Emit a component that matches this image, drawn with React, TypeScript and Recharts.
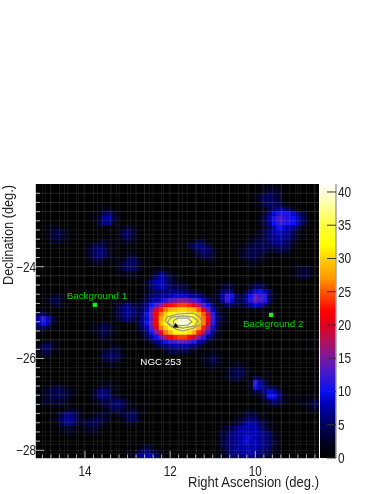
import React from "react"
import {
  Bar,
  BarChart,
  Scatter,
  ScatterChart,
  Symbols,
  XAxis,
  YAxis,
} from "recharts"

const FONT = "'Liberation Sans', Arial, sans-serif"

const RA_MIN = 8.505
const RA_MAX = 15.15
const DEC_MIN = -28.168
const DEC_MAX = -22.198
const NUM_BINS = 60

// one character per bin: index in LEVELS is the counts value
const LEVELS = "0123456789abcdefghijklmnopqrstuvwxyzABCDEF"

// rows go from the top of the map down, columns from high RA to low RA
const heatRows = [
  "0000000000 0000000000 0000000000 0000000000 0000000112 1100000000",
  "0000000000 0000000000 0000000000 0000000000 0000000123 3210000000",
  "0000000000 0000000000 0000000000 0000000000 0000001345 4310000000",
  "0000000000 0000000000 0000000000 0000000000 0000001355 4310000000",
  "0000000000 0000000000 0000000000 0000000000 0000001245 5421000000",
  "0000000000 0001221000 0000000000 0000000000 0000000124 6775310000",
  "0000000000 0012553100 0000000000 0000000000 0000000136 9bbb964100",
  "0000000000 0023784200 0000000000 0000000000 0000000248 bdcba85200",
  "0000000000 0013663100 0000000000 0000000000 0000000247 accba85200",
  "0012210000 0001000123 2100000000 0000000000 0000000135 8a98742000",
  "0023432000 0000000245 3100000000 0000000000 0000001246 8987531000",
  "0023432000 0000000245 3100000000 0000010000 0000012346 7876421000",
  "0012321000 0012321123 2100000000 0012431000 0000123445 6765310000",
  "0000000000 1244311111 1000000000 0145654100 0001234444 5554210000",
  "0000000000 1356521000 0000000000 0013565310 0012344443 3443100000",
  "0000000000 1356521112 3100000000 0001354310 0012344321 1221000000",
  "0000000000 1244211124 5310000000 0000123100 0001233210 0000000000",
  "0000000000 0122111245 5420000000 0000000000 0000122100 0000110000",
  "0000000000 0000011245 5310011100 0000000000 0000011000 0000123310",
  "0000000000 0000000112 2100136421 0000000000 0000000000 0000123320",
  "0000000000 0000000012 2101368642 1000000000 0000000000 0000123310",
  "0000000000 0000000000 0013688742 2100000001 1100012210 0000000000",
  "0000000000 0000000000 0012578754 4320000012 4310135531 0000000000",
  "0000000000 0000000000 0012456666 6543210125 6521379a85 1000000000",
  "0012321000 0000000000 0013567789 9987642137 ca536aecb5 2000000000",
  "0124421000 0000000122 1135789bde ffedb85327 c9547bedb5 2000000000",
  "0012321000 0000001356 4347adgkmn oonlhda522 5433479852 0000000000",
  "1100000000 0000002467 6458djnqst uutspke841 1001122210 0000000000",
  "4531000000 0000002467 646afmquwy ABzxtpjb52 1000000000 0000000000",
  "8c94100000 0000001356 4369elsvxA DECyuqlc63 1000000000 0000000000",
  "7a83100000 0012321012 236afmtwzC EEDyuqkb52 1000000000 0000000000",
  "4531000000 0123432100 0258dkquxz BBzvsng941 0000000000 0000000000",
  "1200000000 0123432100 0136aflqtw xxvsnic631 0000000000 0000000000",
  "0000000000 0012321000 00247aeiln oomjfb7410 0000000000 0000000000",
  "0122100000 0001210000 0002468acd eedb863100 0000000000 0000000000",
  "2453100000 0000012210 0000135678 8876421000 0000000000 0000000000",
  "2452100000 0001344310 0000001344 4432101210 0000000000 0000000000",
  "1231000000 0002455420 0000000011 1100012321 0000000000 0000000000",
  "0000000000 0001344310 0000000000 0000123431 0000000000 0000000000",
  "0000000000 0000122100 0000000000 0000012321 0122100000 0000000000",
  "0000000000 0000000000 0000000000 0000001210 2344210000 0000000000",
  "0000000000 0000000000 0000000000 0000000000 2344310011 0000000000",
  "0000000000 0000000000 0000000000 0000000001 2343115321 0000000000",
  "0011100000 0001221000 0000000000 0000000000 011003c841 0000000000",
  "0123432100 0012332100 0000000000 0000000000 000002a864 4210000000",
  "1234443210 0136642100 0000000000 0000000000 0000024469 8410000000",
  "1234443210 0136653210 0000000000 0000000000 000000125a a621111100",
  "1233332100 0023445542 1000000000 0000000000 0000000124 6421112234",
  "0122221000 0012345542 1000000000 0000000000 0000000012 3210001234",
  "0000012321 0001234432 3210000000 0000000000 0000121000 0000000122",
  "0000246642 0123321234 5310000000 0000000000 0012343210 0000000000",
  "0001357753 2344321124 5310000000 0000000000 0123565321 0000000000",
  "0000246642 3443210012 2100000000 0000000001 1235787532 1000000000",
  "0000123321 2332100000 0000000000 0000000012 3468888642 1000000000",
  "0000012210 1221000000 0000000000 0000000013 4678888765 2100000000",
  "0000000000 0000000000 0000000000 0000000013 5678998765 3100000000",
  "0000000000 0000000000 0000000000 0000000013 5678988765 3100000000",
  "0000000000 0000000000 0123210000 0000000013 5678888765 3100000000",
  "0000000000 0000000001 1356531000 0000000012 4677887654 2100000000",
  "0000000000 0000000001 2578752000 0000000012 4566776543 2100000000",
]

const raTicks = [
  8.6, 8.8, 9, 9.2, 9.4, 9.6, 9.8, 10, 10.2, 10.4, 10.6, 10.8, 11, 11.2, 11.4,
  11.6, 11.8, 12, 12.2, 12.4, 12.6, 12.8, 13, 13.2, 13.4, 13.6, 13.8, 14, 14.2,
  14.4, 14.6, 14.8, 15,
]
const raMajor = [10, 12, 14]

const decTicks = [
  -28, -27.8, -27.6, -27.4, -27.2, -27, -26.8, -26.6, -26.4, -26.2, -26, -25.8,
  -25.6, -25.4, -25.2, -25, -24.8, -24.6, -24.4, -24.2, -24, -23.8, -23.6,
  -23.4, -23.2, -23, -22.8, -22.6, -22.4,
]
const decMajor = [-24, -26, -28]

const colorTicks = [0, 5, 10, 15, 20, 25, 30, 35, 40]
const COLOR_MAX = 41.2

const paletteLevels = [0, 2, 5, 8, 10, 13, 15, 18, 20, 22, 25, 27, 30, 32, 35, 38, 41.2]
const paletteColors = [
  "#000000",
  "#00001a",
  "#000060",
  "#0000b0",
  "#0a10f0",
  "#4a18c8",
  "#7a18a0",
  "#b81050",
  "#e00020",
  "#ff0000",
  "#ff5500",
  "#ff9900",
  "#ffd000",
  "#ffff00",
  "#ffff40",
  "#ffffa0",
  "#ffffff",
]

// contours around the source, [ra, dec]
const contourOuter = [
  [12.12, -25.18], [12.08, -25.1], [11.82, -25.03], [11.46, -25.01], [11.3, -25.1],
  [11.25, -25.23], [11.46, -25.34], [11.7, -25.4], [11.86, -25.36], [12.0, -25.29],
  [12.12, -25.18],
]
const contourMiddle = [
  [12.05, -25.18], [11.96, -25.1], [11.7, -25.07], [11.46, -25.1], [11.35, -25.18],
  [11.42, -25.29], [11.7, -25.34], [11.89, -25.31], [12.05, -25.23], [12.05, -25.18],
]
const contourInner = [
  [11.93, -25.18], [11.82, -25.12], [11.58, -25.12], [11.49, -25.2], [11.58, -25.27],
  [11.77, -25.29], [11.91, -25.25], [11.93, -25.18],
]
const contours = [contourOuter, contourMiddle, contourInner]

const bgRa = [13.77, 9.63]
const bgDec = [-24.83, -25.05]
const sourceRa = [11.87]
const sourceDec = [-25.29]

const labelNames = ["Background 1", "Background 2", "NGC 253"]
const labelRa = [13.72, 9.58, 12.22]
const labelDec = [-24.7, -25.31, -26.14]
const labelColors = ["#00d000", "#00d000", "#ffffff"]

function hexToRgb(hex: string) {
  return [1, 3, 5].map((i) => parseInt(hex.slice(i, i + 2), 16))
}

function colorFor(v: number) {
  for (let i = 1; i < paletteLevels.length; i++) {
    if (v <= paletteLevels[i]) {
      const t = (v - paletteLevels[i - 1]) / (paletteLevels[i] - paletteLevels[i - 1])
      const a = hexToRgb(paletteColors[i - 1])
      const b = hexToRgb(paletteColors[i])
      return `rgb(${a.map((c, k) => Math.round(c + (b[k] - c) * t)).join(",")})`
    }
  }
  return "#ffffff"
}

const raBin = (RA_MAX - RA_MIN) / NUM_BINS
const decBin = (DEC_MAX - DEC_MIN) / NUM_BINS

const heatData = heatRows.flatMap((row, r) =>
  row
    .replace(/ /g, "")
    .split("")
    .map((ch, c) => ({
      x: RA_MAX - (c + 0.5) * raBin,
      y: DEC_MAX - (r + 0.5) * decBin,
      value: LEVELS.indexOf(ch),
    }))
)

const WIDTH = 382
const HEIGHT = 494
const LEFT = 36
const RIGHT = 319
const TOP = 184
const BOTTOM = 458
const cellW = (RIGHT - LEFT) / NUM_BINS
const cellH = (BOTTOM - TOP) / NUM_BINS

function HeatCell(props: any) {
  const { cx, cy, payload } = props
  return (
    <rect
      x={cx - cellW / 2}
      y={cy - cellH / 2}
      width={cellW + 0.4}
      height={cellH + 0.4}
      fill={colorFor(payload.value)}
    />
  )
}

function NoPoint() {
  return <g />
}

function RaTick({ x, y, payload }: any) {
  const major = raMajor.includes(payload.value)
  return (
    <g>
      <line x1={x} x2={x} y1={y} y2={y - (major ? 7 : 3.5)} stroke="#b0b0b0" strokeWidth={1} />
      {major && (
        <text
          x={x}
          y={y + 18}
          textAnchor="middle"
          fontSize={14}
          fontFamily={FONT}
          fill="#222"
          textLength={13}
          lengthAdjust="spacingAndGlyphs"
        >
          {payload.value}
        </text>
      )}
    </g>
  )
}

function DecTick({ x, y, payload }: any) {
  const major = decMajor.includes(payload.value)
  return (
    <g>
      <line x1={x} x2={x + (major ? 8 : 4)} y1={y} y2={y} stroke="#b0b0b0" strokeWidth={1} />
      {major && (
        <text
          x={x}
          y={y + 5}
          textAnchor="end"
          fontSize={14}
          fontFamily={FONT}
          fill="#222"
          textLength={20}
          lengthAdjust="spacingAndGlyphs"
        >
          {"\u2212" + Math.abs(payload.value)}
        </text>
      )}
    </g>
  )
}

function ColorTick({ x, y, payload }: any) {
  return (
    <g>
      <line x1={x} x2={x - 9} y1={y} y2={y} stroke="#333" strokeWidth={1} />
      <text
        x={x + 2}
        y={y + 5}
        fontSize={14}
        fontFamily={FONT}
        fill="#222"
        textLength={String(payload.value).length * 6.6}
        lengthAdjust="spacingAndGlyphs"
      >
        {payload.value}
      </text>
    </g>
  )
}

function BgMarker({ cx, cy }: any) {
  return <Symbols type="square" cx={cx} cy={cy} size={18} fill="#00ff00" />
}

function SourceMarker({ cx, cy }: any) {
  return <Symbols type="triangle" cx={cx} cy={cy} size={14} fill="#000000" />
}

function MapLabel({ cx, cy, payload }: any) {
  return (
    <text x={cx} y={cy} textAnchor="middle" fontSize={9.8} fontFamily={FONT} fill={payload.color}>
      {payload.name}
    </text>
  )
}

const gridStroke = "rgba(200,200,200,0.11)"

export default function App() {
  return (
    <div
      style={{
        position: "absolute",
        left: 0,
        top: 0,
        width: WIDTH,
        height: HEIGHT,
        filter: "blur(0.5px)",
      }}
    >
      <ScatterChart
        width={WIDTH}
        height={HEIGHT}
        margin={{ left: 0, top: TOP, right: WIDTH - RIGHT, bottom: 0 }}
      >
        <Scatter data={heatData} dataKey="y" shape={HeatCell} isAnimationActive={false} />
        {raTicks.map((ra) => (
          <Scatter
            key={`ra-${ra}`}
            data={[{ x: ra, y: DEC_MIN }, { x: ra, y: DEC_MAX }]}
            dataKey="y"
            line={{ stroke: gridStroke, strokeWidth: 1 }}
            shape={NoPoint}
            isAnimationActive={false}
          />
        ))}
        {decTicks.map((dec) => (
          <Scatter
            key={`dec-${dec}`}
            data={[{ x: RA_MIN, y: dec }, { x: RA_MAX, y: dec }]}
            dataKey="y"
            line={{ stroke: gridStroke, strokeWidth: 1 }}
            shape={NoPoint}
            isAnimationActive={false}
          />
        ))}
        {contours.map((c, i) => (
          <Scatter
            key={`contour-${i}`}
            data={c.map(([x, y]) => ({ x, y }))}
            dataKey="y"
            line={{ stroke: "#98987c", strokeWidth: 1.2 }}
            shape={NoPoint}
            isAnimationActive={false}
          />
        ))}
        <Scatter
          data={bgRa.map((x, i) => ({ x, y: bgDec[i] }))}
          dataKey="y"
          shape={BgMarker}
          isAnimationActive={false}
        />
        <Scatter
          data={sourceRa.map((x, i) => ({ x, y: sourceDec[i] }))}
          dataKey="y"
          shape={SourceMarker}
          isAnimationActive={false}
        />
        <Scatter
          data={labelNames.map((name, i) => ({
            name,
            x: labelRa[i],
            y: labelDec[i],
            color: labelColors[i],
          }))}
          dataKey="y"
          shape={MapLabel}
          isAnimationActive={false}
        />
        <XAxis
          type="number"
          dataKey="x"
          domain={[RA_MIN, RA_MAX]}
          reversed
          allowDataOverflow
          ticks={raTicks}
          interval={0}
          height={HEIGHT - BOTTOM}
          tickSize={0}
          tickMargin={0}
          tickLine={false}
          tick={RaTick}
          axisLine={{ stroke: "#9a9a9a" }}
        />
        <YAxis
          type="number"
          dataKey="y"
          domain={[DEC_MIN, DEC_MAX]}
          allowDataOverflow
          ticks={decTicks}
          interval={0}
          width={LEFT}
          tickSize={0}
          tickMargin={0}
          tickLine={false}
          tick={DecTick}
          axisLine={{ stroke: "#9a9a9a" }}
        />
        <text
          x={RIGHT}
          y={487}
          textAnchor="end"
          fontSize={14}
          fontFamily={FONT}
          fill="#222"
          textLength={131}
          lengthAdjust="spacingAndGlyphs"
        >
          Right Ascension (deg.)
        </text>
        <text
          transform={`translate(13,${TOP + 1}) rotate(-90)`}
          textAnchor="end"
          fontSize={14}
          fontFamily={FONT}
          fill="#222"
          textLength={100}
          lengthAdjust="spacingAndGlyphs"
        >
          Declination (deg.)
        </text>
      </ScatterChart>

      <div style={{ position: "absolute", left: 320, top: 0 }}>
        <BarChart
          width={WIDTH - 320}
          height={HEIGHT}
          data={[{ name: "counts", value: COLOR_MAX }]}
          margin={{ left: 0, top: TOP, right: 0, bottom: HEIGHT - BOTTOM }}
          barCategoryGap={0}
        >
          <defs>
            <linearGradient id="colorScale" x1="0" y1="1" x2="0" y2="0">
              {paletteLevels.map((lv, i) => (
                <stop key={lv} offset={lv / COLOR_MAX} stopColor={paletteColors[i]} />
              ))}
            </linearGradient>
          </defs>
          <XAxis dataKey="name" hide />
          <YAxis
            orientation="right"
            type="number"
            domain={[0, COLOR_MAX]}
            ticks={colorTicks}
            interval={0}
            width={WIDTH - 336}
            tickSize={0}
            tickMargin={0}
            tickLine={false}
            tick={ColorTick}
            axisLine={{ stroke: "#a0a0a0", strokeWidth: 1.5 }}
          />
          <Bar dataKey="value" fill="url(#colorScale)" isAnimationActive={false} />
        </BarChart>
      </div>
    </div>
  )
}
